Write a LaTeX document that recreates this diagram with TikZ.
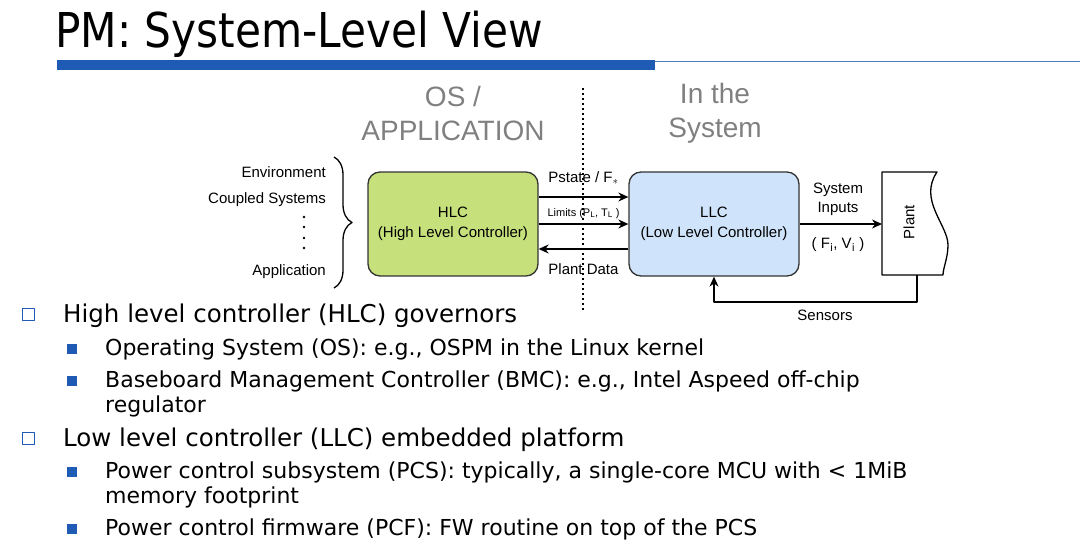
\documentclass[tikz,border=0pt]{standalone}
\usepackage{fontspec}
\setmainfont{DejaVu Sans}
\newfontfamily\diafont{Liberation Sans}
\newfontfamily\titlefont[FakeStretch=0.88]{DejaVu Sans}
\usetikzlibrary{decorations.pathreplacing,positioning,arrows.meta}
\definecolor{slideblue}{HTML}{1F5BB4}
\definecolor{hlcgreen}{HTML}{C6E07C}
\definecolor{llcblue}{HTML}{CFE4FA}
\definecolor{headgray}{HTML}{808080}
\tikzset{
  ctrl/.style={draw=black!80,line width=1.3pt,rounded corners=12pt,minimum width=170pt,minimum height=104pt,align=center,font=\diafont\fontsize{15}{20}\selectfont},
  lbl/.style={font=\diafont\fontsize{15}{18}\selectfont,inner sep=0pt},
  head/.style={font=\diafont\fontsize{28}{34}\selectfont,text=headgray,align=center,inner sep=0pt},
  mainitem/.style={anchor=base west,inner sep=0pt,font=\fontsize{24.5}{28}\selectfont},
  subitem/.style={anchor=base west,inner sep=0pt,font=\fontsize{22}{26}\selectfont},
  sq/.style={draw=slideblue,line width=1.4pt,minimum size=12pt,inner sep=0pt},
  fsq/.style={fill=slideblue,minimum size=10pt,inner sep=0pt},
}
\begin{document}
\begin{tikzpicture}[x=1pt,y=-1pt,line join=round,>={Stealth[length=10pt,width=9pt]}]
  \useasboundingbox (0,0) rectangle (1080,552);
  % title
  \node[anchor=base west,inner sep=0pt,font=\titlefont\fontsize{48}{50}\selectfont] (title) at (55,47) {PM: System-Level View};
  \fill[slideblue] (57,60) rectangle (655,70);
  \draw[slideblue!80,line width=1pt] (655,61) -- (1080,61);
  % headings
  \node[head] (osapp) at (453,113) {OS /\\APPLICATION};
  \node[head] (insys) at (715,113) {In the\\System};
  \draw[line width=2pt,dash pattern=on 1.6pt off 3.4pt] (583,88) -- (583,312);
  % inputs on the left
  \node[lbl,anchor=base east] (env) at (326,177) {Environment};
  \node[lbl,anchor=base east] (coup) at (326,203) {Coupled Systems};
  \node[lbl,anchor=base east] (appl) at (326,275) {Application};
  \foreach \y in {217,227,238,248}\fill (304,\y) circle (1.4pt);
  \draw[line width=1.3pt,decorate,decoration={brace,amplitude=18pt}] (334,157) -- (334,288);
  % controllers
  \node[ctrl,fill=hlcgreen] (hlc) at (453,224) {HLC\\(High Level Controller)};
  \node[ctrl,fill=llcblue] (llc) at (714,224) {LLC\\(Low Level Controller)};
  \draw[->,line width=1.3pt] ([yshift=27pt]hlc.east) -- ([yshift=27pt]llc.west) node[lbl,midway,above=12pt] (pst) {Pstate / F$_*$};
  \draw[->,line width=1.3pt] (hlc.east) -- (llc.west) node[lbl,midway,above=5pt,font=\diafont\fontsize{11}{13}\selectfont] (lim) {Limits (P$_\mathrm{L}$, T$_\mathrm{L}$ )};
  \draw[->,line width=1.3pt] ([yshift=-25pt]llc.west) -- ([yshift=-25pt]hlc.east) node[lbl,midway,below=14pt] (pdat) {Plant Data};
  % plant
  \path (882,172) coordinate (pa) (937,172) coordinate (pb) (943,275) coordinate (pc) (882,275) coordinate (pd);
  \draw[line width=1.3pt,fill=white] (pa) -- (pb) .. controls (918,200) and (948,225) .. (948,245) .. controls (948,258) and (943,268) .. (pc) -- (pd) -- cycle;
  \node[lbl,rotate=90] (plant) at (909,222) {Plant};
  \coordinate (pin) at (882,224);
  \draw[->,line width=1.3pt] (llc.east) -- (pin);
  \node[lbl,align=center] (sysin) at (838,199) {System\\[1pt]Inputs};
  \node[lbl] (fv) at (838,245) {( F$_\mathrm{i}$, V$_\mathrm{i}$ )};
  % feedback
  \coordinate (sens) at (917,275);
  \draw[->,line width=1.2pt] (sens) -- (917,302) -| (llc.south);
  \node[lbl] (senslbl) at (825,315) {Sensors};
  % bullets
  \node[sq] (b1) at (28.5,314.5) {};
  \node[mainitem] (t1) at (63,322) {High level controller (HLC) governors};
  \node[fsq] (s1) at (72,349) {};
  \node[subitem] (u1) at (105,355) {Operating System (OS): e.g., OSPM in the Linux kernel};
  \node[fsq] (s2) at (72,381) {};
  \node[subitem] (u2) at (105,387) {Baseboard Management Controller (BMC): e.g., Intel Aspeed off-chip};
  \node[subitem] (u2b) at (105,412) {regulator};
  \node[sq] (b2) at (28.5,438.5) {};
  \node[mainitem] (t2) at (63,446) {Low level controller (LLC) embedded platform};
  \node[fsq] (s3) at (72,472) {};
  \node[subitem] (u3) at (105,478) {Power control subsystem (PCS): typically, a single-core MCU with < 1MiB};
  \node[subitem] (u3b) at (105,503) {memory footprint};
  \node[fsq] (s4) at (72,529) {};
  \node[subitem] (u4) at (105,535) {Power control firmware (PCF): FW routine on top of the PCS};
\end{tikzpicture}
\end{document}
